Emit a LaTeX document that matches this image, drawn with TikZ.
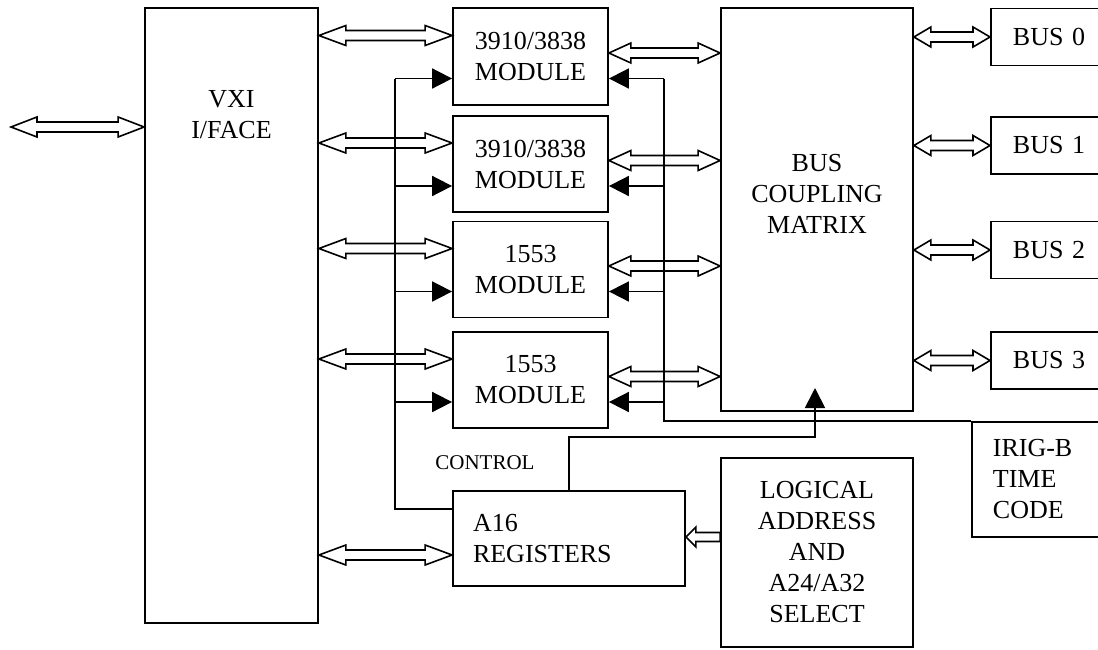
\documentclass[tikz,border=0pt]{standalone}
\usepackage{fontspec}
\setmainfont{Liberation Serif}
\usetikzlibrary{arrows.meta}
\usetikzlibrary{calc}

\newcommand\dbarrow[3][13.5pt]{%
  \draw[bus] let \p1=(#2), \p2=(#3) in
    (\x1,\y1) -- (\x1+#1,\y1+5pt) -- (\x1+#1,\y1+2.5pt) -- (\x2-#1,\y1+2.5pt)
    -- (\x2-#1,\y1+5pt) -- (\x2,\y1) -- (\x2-#1,\y1-5pt) -- (\x2-#1,\y1-2.5pt)
    -- (\x1+#1,\y1-2.5pt) -- (\x1+#1,\y1-5pt) -- cycle;}

\begin{document}
\begin{tikzpicture}[x=0.5pt, y=-0.5pt,
    box/.style={draw, line width=0.9pt, inner sep=0pt, align=center, font=\fontsize{13}{15.5}\selectfont},
    lbl/.style={inner sep=0pt, align=center, font=\fontsize{13}{15.5}\selectfont},
    ctl/.style={line width=0.9pt},
    bus/.style={line width=0.8pt, line join=miter},
    tip/.style={-{Triangle[length=10pt, width=10pt]}}]

        \clip (0,0) rectangle (1098,649);

        \node [box, minimum width=86.5pt, minimum height=307.5pt] (vxi) at (231.5,315.5) {};
        \node [lbl] (vxitxt) at (231.5,114.5) {VXI\\I/FACE};

        \node [box, minimum width=77.5pt, minimum height=48.5pt] (m1) at (530.5,56.5) {3910/3838\\MODULE};
        \node [box, minimum width=77.5pt, minimum height=48pt] (m2) at (530.5,164) {3910/3838\\MODULE};
        \node [box, minimum width=77.5pt, minimum height=48pt] (m3) at (530.5,269.5) {1553\\MODULE};
        \node [box, minimum width=77.5pt, minimum height=48pt] (m4) at (530.5,380) {1553\\MODULE};

        \node [box, minimum height=47.5pt, text width=96pt, inner xsep=10pt, align=left] (a16) at (569,538.5) {A16\\REGISTERS};

        \node [box, minimum width=96pt, minimum height=201.5pt] (coupling) at (817,209.5) {};
        \node [lbl] (couplingtxt) at (817,193.5) {BUS\\COUPLING\\MATRIX};

        \node [box, minimum width=96pt, minimum height=94.5pt] (logic) at (817,552.5) {LOGICAL\\ADDRESS\\AND\\A24/A32\\SELECT};

        \node [box, anchor=west, minimum height=28.5pt, text width=40pt, inner xsep=11pt, align=left] (b0) at (990,37) {BUS 0};
        \node [box, anchor=west, minimum height=28.5pt, text width=40pt, inner xsep=11pt, align=left] (b1) at (990,145.5) {BUS 1};
        \node [box, anchor=west, minimum height=28.5pt, text width=40pt, inner xsep=11pt, align=left] (b2) at (990,250) {BUS 2};
        \node [box, anchor=west, minimum height=28.5pt, text width=40pt, inner xsep=11pt, align=left] (b3) at (990,360.5) {BUS 3};

        \node [box, anchor=north west, minimum height=57.5pt, text width=50pt, inner xsep=10.5pt, align=left] (irig) at (971,421) {IRIG-B\\TIME\\CODE};

        \node [anchor=base west, inner sep=0pt, font=\fontsize{10.5}{12}\selectfont] (ctltxt) at (435,469) {CONTROL};

        \coordinate (ext) at (11,127);
        \coordinate (lbus) at (395,0);
        \coordinate (rbus) at (664,0);
        \coordinate (tap) at (815,388);

        \dbarrow[13pt]{ext}{vxi.west |- ext}

        \foreach \m in {m1,m2,m3,m4} {
          \coordinate (\m-da) at ([yshift=10.5pt]\m.west);
          \coordinate (\m-db) at ([yshift=1.75pt]\m.east);
          \coordinate (\m-ci) at ([yshift=-11pt]\m.west);
          \coordinate (\m-ti) at ([yshift=-11pt]\m.east);
          \dbarrow{vxi.east |- \m-da}{\m-da}
          \dbarrow[11pt]{\m-db}{coupling.west |- \m-db}
          \draw[ctl, tip] (lbus |- \m-ci) -- (\m-ci);
          \draw[ctl, tip] (rbus |- \m-ti) -- (\m-ti);
        }

        \foreach \b in {b0,b1,b2,b3}
          \dbarrow[8.5pt]{coupling.east |- \b.west}{\b.west};

        \coordinate (a16-da) at ([yshift=-8.25pt]a16.west);
        \coordinate (a16-ci) at ([yshift=14.75pt]a16.west);
        \dbarrow{vxi.east |- a16-da}{a16-da}

        \draw[ctl] (lbus |- m1-ci) -- (lbus |- a16-ci) -- (a16-ci);
        \draw[ctl] (rbus |- m1-ti) -- (rbus |- irig.north west) -- (irig.north west);
        \draw[ctl, tip] (a16.north) |- ++(246,-53) -- (tap);

        \coordinate (la) at ([yshift=7.75pt]logic.west);
        \draw[bus] let \p1=(a16.east |- la), \p2=(la) in
          (\x1,\y1) -- (\x1+5pt,\y1+5pt) -- (\x1+5pt,\y1+2.25pt) -- (\x2,\y1+2.25pt)
          -- (\x2,\y1-2.25pt) -- (\x1+5pt,\y1-2.25pt) -- (\x1+5pt,\y1-5pt) -- cycle;

      \end{tikzpicture}
\end{document}
